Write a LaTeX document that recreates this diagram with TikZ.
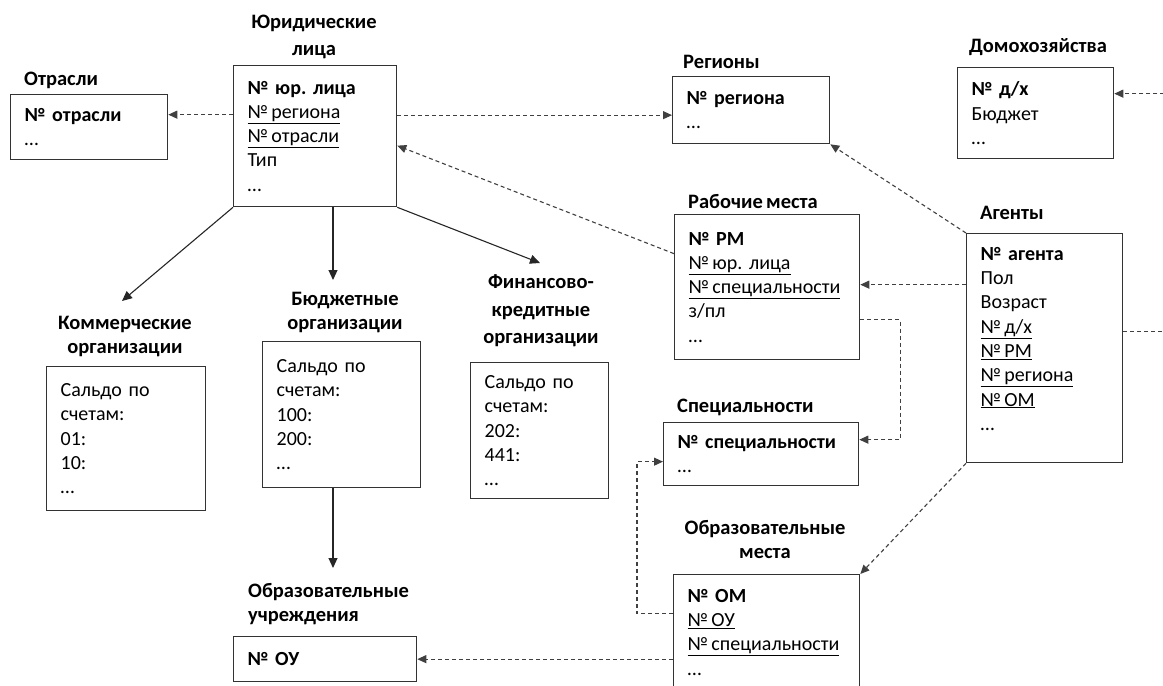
\documentclass[tikz,border=0pt]{standalone}
\usepackage{fontspec}
\setmainfont{Carlito}[WordSpace=0.7]
\usetikzlibrary{arrows.meta,positioning}

\begin{document}
\begin{tikzpicture}[x=1pt,y=-1pt,
  every node/.style={font=\fontsize{20}{24.3}\selectfont},
  entity/.style={draw=black!80,line width=1.3pt,rectangle,align=left,anchor=north west,inner xsep=14pt,inner ysep=0pt},
  ename/.style={font=\fontsize{20.5}{24}\selectfont\bfseries,inner sep=0pt},
  fk/.style={draw=black!75,line width=1.1pt,dash pattern=on 4pt off 3pt,-{Triangle[length=9pt,width=8pt]}},
  isa/.style={draw=black!85,line width=1.1pt,-{Triangle[length=10pt,width=9pt]}}]
  \useasboundingbox (0,0) rectangle (1163,686);
  \clip (0,0) rectangle (1163,686);
  \path
  node[entity,text width=129pt,minimum height=65pt] (otrasli) at (10,94)
    {\textbf{№~отрасли}\\…}
  node[entity,text width=135pt,minimum height=141pt] (yurlica) at (233,65)
    {\textbf{№~юр.~лица}\\\underline{№\,региона}\\\underline{№\,отрасли}\\Тип\\…}
  node[entity,text width=129pt,minimum height=67pt] (regiony) at (672,76)
    {\textbf{№~региона}\\…}
  node[entity,text width=128pt,minimum height=91pt] (domoh) at (957,67)
    {\textbf{№~д/х}\\Бюджет\\…}
  node[entity,text width=157pt,minimum height=145pt] (rabmesta) at (674,214)
    {\textbf{№~РМ}\\\underline{№\,юр.~лица}\\\underline{№\,специальности}\\з/пл\\…}
  node[entity,text width=128pt,minimum height=229pt,text depth=189pt] (agenty) at (966,233)
    {\textbf{№~агента}\\Пол\\Возраст\\\underline{№\,д/х}\\\underline{№\,РМ}\\\underline{№\,региона}\\\underline{№\,ОМ}\\…}
  node[entity,text width=167pt,minimum height=63pt] (spec) at (663,422)
    {\textbf{№~специальности}\\…}
  node[entity,text width=131pt,minimum height=144pt] (kommerch) at (46,366)
    {Сальдо по\\счетам:\\01:\\10:\\…}
  node[entity,text width=130pt,minimum height=146pt] (budget) at (262,341)
    {Сальдо по\\счетам:\\100:\\200:\\…}
  node[entity,text width=110pt,minimum height=136pt] (fincred) at (470,362)
    {Сальдо по\\счетам:\\202:\\441:\\…}
  node[entity,text width=155pt,minimum height=45pt] (obruch) at (233,636)
    {\textbf{№~ОУ}}
  node[entity,text width=158pt,minimum height=115pt] (obrmesta) at (673,574)
    {\textbf{№~ОМ}\\\underline{№\,ОУ}\\\underline{№\,специальности}\\…}

  node[ename,anchor=west] (otrasli-t) at (24,80) {Отрасли}
  node[ename,align=center,font=\fontsize{20.5}{27}\selectfont\bfseries] (yurlica-t) at (314,37) {Юридические\\лица}
  node[ename,anchor=west] (regiony-t) at (683,62) {Регионы}
  node[ename,anchor=west] (domoh-t) at (969,47) {Домохозяйства}
  node[ename,anchor=west] (rabmesta-t) at (688,202) {Рабочие места}
  node[ename,anchor=west] (agenty-t) at (980,213) {Агенты}
  node[ename,anchor=west] (spec-t) at (677,407) {Специальности}
  node[ename,align=center] (kommerch-t) at (125,336.5) {Коммерческие\\организации}
  node[ename,align=center] (budget-t) at (345,312) {Бюджетные\\организации}
  node[ename,align=center,font=\fontsize{20.5}{27.5}\selectfont\bfseries] (fincred-t) at (541,311) {Финансово-\\кредитные\\организации}
  node[ename,align=left,anchor=west] (obruch-t) at (248,604.5) {Образовательные\\учреждения}
  node[ename,align=center] (obrmesta-t) at (765,539.5) {Образовательные\\места}
  ;
  \coordinate (kommerch-in) at (122,301);
  \coordinate (budget-in) at (333,280);
  \coordinate (fincred-in) at (540,263);
  \coordinate (obruch-in) at (333,568);

  \path
  (yurlica.south west) edge[isa] (kommerch-in)
  (yurlica.south -| budget-in) edge[isa] (budget-in)
  (yurlica.south east) edge[isa] (fincred-in)
  (budget.south -| obruch-in) edge[isa] (obruch-in)
  ;
  \path
  ([yshift=21.5pt]yurlica.west) edge[fk] ([yshift=12.5pt]otrasli.east)
  ([yshift=21pt]yurlica.east) edge[fk] ([yshift=-5pt]regiony.west)
  ([yshift=33.5pt]rabmesta.west) edge[fk] ([yshift=-9.5pt]yurlica.east)
  (agenty.north west) edge[fk] (regiony.south east)
  ([yshift=63.5pt]agenty.west) edge[fk] ([yshift=2.5pt]rabmesta.east)
  (agenty.south west) edge[fk] (obrmesta.north east)
  (obrmesta.west |- obruch.east) edge[fk] (obruch.east)
  ;
  \draw[fk] ([yshift=-32.5pt]rabmesta.east) -- ++(40,0) |- ([yshift=14.5pt]spec.east);
  \draw[fk] ([yshift=18.5pt]obrmesta.west) -- ++(-36,0) |- ([yshift=-7.5pt]spec.west);
  \draw[fk] ([yshift=16.5pt]agenty.east) -- ++(80,0) |- ([yshift=19.5pt]domoh.east);
\end{tikzpicture}
\end{document}
